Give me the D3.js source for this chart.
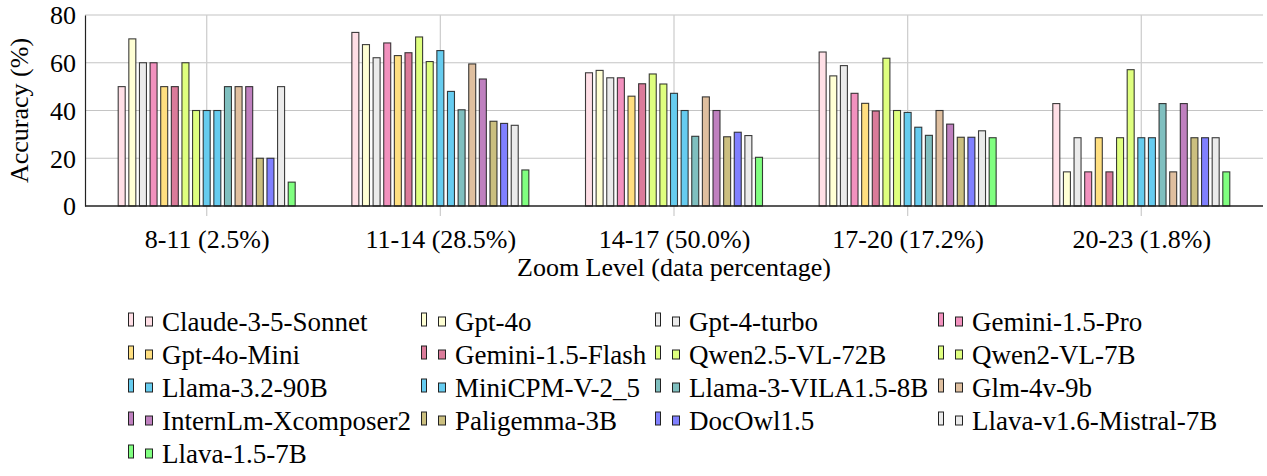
<!DOCTYPE html>
<html>
<head>
<meta charset="utf-8">
<script src="https://cdn.jsdelivr.net/npm/d3@7"></script>
<style>
  html, body { margin: 0; padding: 0; background: #fff; }
  .serif { font-family: "Liberation Serif"; fill: #000; }
</style>
</head>
<body>
<svg id="chart" width="1267" height="476"></svg>
<script>
// ---------- data ----------
const categories = ["8-11 (2.5%)", "11-14 (28.5%)", "14-17 (50.0%)", "17-20 (17.2%)", "20-23 (1.8%)"];
const models = [
  "Claude-3-5-Sonnet", "Gpt-4o", "Gpt-4-turbo", "Gemini-1.5-Pro",
  "Gpt-4o-Mini", "Gemini-1.5-Flash", "Qwen2.5-VL-72B", "Qwen2-VL-7B",
  "Llama-3.2-90B", "MiniCPM-V-2_5", "Llama-3-VILA1.5-8B", "Glm-4v-9b",
  "InternLm-Xcomposer2", "Paligemma-3B", "DocOwl1.5", "Llava-v1.6-Mistral-7B",
  "Llava-1.5-7B"
];
const colors = [
  "#ffdfe6", "#ffffd4", "#ebebeb", "#f291be",
  "#ffdf80", "#db7b9a", "#dfff7f", "#dfff7f",
  "#66ccef", "#66ccf0", "#7fbfbf", "#dfbf9f",
  "#bf80bf", "#cbbf7f", "#8080ff", "#ebebeb",
  "#80ff80"
];
// accuracy (%) per model, one value per zoom-level category
const claude     = [50, 72.7, 55.8, 64.5, 42.9];
const gpt4o      = [70, 67.6, 56.8, 54.5, 14.3];
const gpt4turbo  = [60, 62.1, 53.7, 58.8, 28.6];
const geminiPro  = [60, 68.3, 53.7, 47.2, 14.3];
const gpt4oMini  = [50, 63.0, 46.0, 43.0, 28.6];
const geminiFl   = [50, 64.2, 51.2, 39.8, 14.3];
const qwen25     = [60, 70.8, 55.3, 61.9, 28.6];
const qwen2      = [40, 60.5, 51.1, 40.0, 57.1];
const llama32    = [40, 65.1, 47.2, 39.2, 28.6];
const minicpm    = [40, 48.0, 40.0, 33.0, 28.6];
const vila       = [50, 40.3, 29.2, 29.6, 42.9];
const glm        = [50, 59.5, 45.7, 40.0, 14.3];
const internlm   = [50, 53.2, 40.0, 34.3, 42.9];
const paligemma  = [20, 35.5, 29.0, 28.8, 28.6];
const docowl     = [20, 34.6, 30.9, 28.8, 28.6];
const llavaMis   = [50, 33.8, 29.5, 31.5, 28.6];
const llava15    = [10, 15.1, 20.4, 28.6, 14.3];
const seriesValues = [claude, gpt4o, gpt4turbo, geminiPro, gpt4oMini, geminiFl, qwen25, qwen2,
  llama32, minicpm, vila, glm, internlm, paligemma, docowl, llavaMis, llava15];
const yTicks = [0, 20, 40, 60, 80];

// ---------- layout ----------
const svg = d3.select("#chart");
const plotL = 85, plotR = 1263, plotT = 15, plotB = 206;
const pad = 121.7;

const x = d3.scalePoint().domain(categories).range([plotL + pad, plotR - pad]);
const xInner = d3.scalePoint().domain(models).range([-85, 85]);
const y = d3.scaleLinear().domain([0, 80]).range([plotB, plotT]);
const barW = 7;

// grid lines
const grid = svg.append("g");
grid.selectAll("line.h").data(yTicks.filter(d => d > 0)).join("line")
  .attr("x1", plotL).attr("x2", plotR)
  .attr("y1", d => y(d)).attr("y2", d => y(d))
  .attr("stroke", "#c4c4c4").attr("stroke-width", 1.1);
grid.selectAll("line.v").data(categories).join("line")
  .attr("x1", d => x(d)).attr("x2", d => x(d))
  .attr("y1", plotT).attr("y2", plotB + 10)
  .attr("stroke", "#cfcfcf").attr("stroke-width", 1.3);

// bars
const barsG = svg.append("g");
models.forEach((m, i) => {
  barsG.append("g").selectAll("rect").data(seriesValues[i]).join("rect")
    .attr("x", (d, j) => x(categories[j]) + xInner(m) - barW / 2)
    .attr("y", d => y(d))
    .attr("width", barW)
    .attr("height", d => y(0) - y(d))
    .attr("fill", colors[i])
    .attr("stroke", "#1a1a1a")
    .attr("stroke-opacity", 0.85)
    .attr("stroke-width", 1.1);
});

// axes
const yAxis = d3.axisLeft(y).tickValues(yTicks).tickSize(0).tickPadding(9);
const gy = svg.append("g").attr("transform", `translate(${plotL},0)`).call(yAxis);
gy.attr("font-family", null).attr("font-size", null);
gy.select(".domain").attr("stroke", "#222").attr("stroke-width", 1.2);
gy.selectAll("text").attr("class", "serif").style("font-size", "26px").attr("dy", "0.34em");

const xAxis = d3.axisBottom(x).tickSize(0).tickPadding(24);
const gx = svg.append("g").attr("transform", `translate(0,${plotB})`).call(xAxis);
gx.attr("font-family", null).attr("font-size", null);
gx.select(".domain").attr("d", `M${plotL},0H${plotR}`).attr("stroke", "#222").attr("stroke-width", 1.5);
gx.selectAll("text").attr("class", "serif").style("font-size", "26px").attr("dy", "0.71em");

// axis titles
svg.append("text").attr("class", "serif")
  .attr("x", (plotL + plotR) / 2).attr("y", 276)
  .attr("text-anchor", "middle").style("font-size", "26px")
  .text("Zoom Level (data percentage)");
svg.append("text").attr("class", "serif")
  .attr("transform", `translate(28,${(plotT + plotB) / 2}) rotate(-90)`)
  .attr("text-anchor", "middle").style("font-size", "26px")
  .text("Accuracy (%)");

// legend
const legCols = [128, 421, 655, 938];
const legRow0 = 331, legRowH = 33;
const leg = svg.append("g");
models.forEach((m, i) => {
  const c = i % 4, r = Math.floor(i / 4);
  const lx = legCols[c], ly = legRow0 + r * legRowH;
  const g = leg.append("g").attr("transform", `translate(${lx},${ly})`);
  g.append("rect").attr("x", 0.5).attr("y", -18).attr("width", 5).attr("height", 13)
    .attr("fill", colors[i]).attr("stroke", "#222").attr("stroke-width", 1);
  g.append("rect").attr("x", 17.5).attr("y", -14).attr("width", 7).attr("height", 9)
    .attr("fill", colors[i]).attr("stroke", "#222").attr("stroke-width", 1);
  g.append("text").attr("class", "serif").attr("x", 34).attr("y", 0)
    .style("font-size", "27px").text(m);
});
</script>
</body>
</html>
